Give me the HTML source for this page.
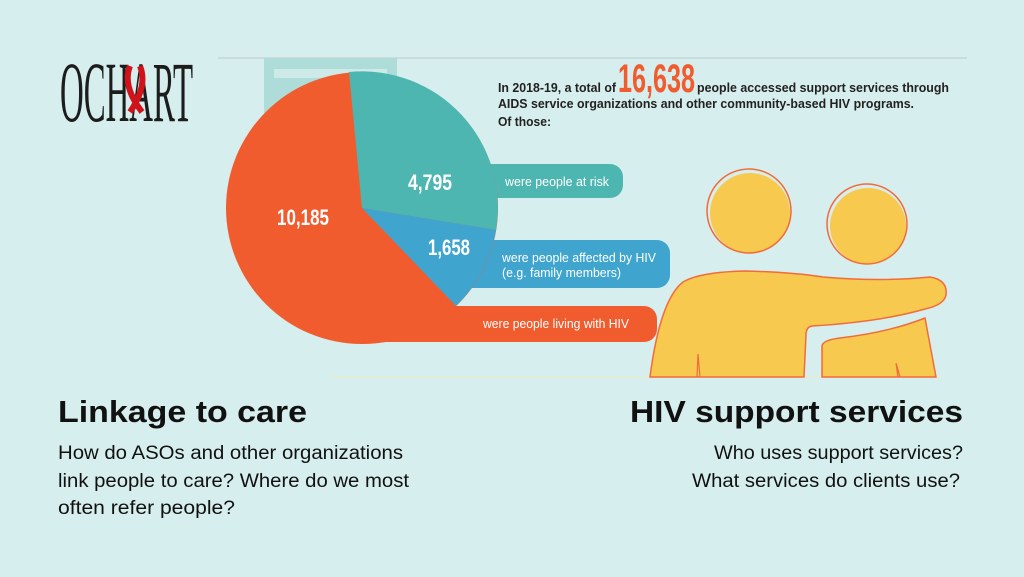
<!DOCTYPE html>
<html><head><meta charset="utf-8"><style>
html,body{margin:0;padding:0;background:#d6eeed;}
svg{display:block}
</style></head><body>
<svg width="1024" height="577" viewBox="0 0 1024 577" xmlns="http://www.w3.org/2000/svg">
<rect width="1024" height="577" fill="#d6eeed"/>
<rect x="218" y="57" width="749" height="2" fill="#c9dcdb"/>
<rect x="333" y="376" width="607" height="2" fill="#e4ecd8"/>
<rect x="264" y="58" width="133" height="200" fill="#aedcd9"/>
<rect x="274" y="69" width="113" height="9" fill="#cdeae8"/>
<rect x="440" y="164" width="183" height="34" rx="13" fill="#4db6b1"/>
<rect x="420" y="240" width="250" height="48" rx="13" fill="#3fa5cf"/>
<rect x="370" y="306" width="287" height="36" rx="13" fill="#f15c2f"/>
<circle cx="362" cy="208" r="136" fill="#f15c2f"/>
<path d="M362,208 L349,72 A136,136 0 0 1 496,230 Z" fill="#4db6b1"/>
<path d="M362,208 L496,230 A136,136 0 0 1 456,306 Z" fill="#3fa5cf"/>
<g font-family="Liberation Sans Narrow, Liberation Sans, sans-serif" fill="#fff">
<text x="277" y="225" font-size="22" font-weight="bold" textLength="52" lengthAdjust="spacingAndGlyphs">10,185</text>
<text x="408" y="190" font-size="22" font-weight="bold" textLength="44" lengthAdjust="spacingAndGlyphs">4,795</text>
<text x="428" y="255" font-size="22" font-weight="bold" textLength="42" lengthAdjust="spacingAndGlyphs">1,658</text>
<text x="505" y="186" font-size="13" textLength="104" lengthAdjust="spacingAndGlyphs">were people at risk</text>
<text x="502" y="262" font-size="13" textLength="154" lengthAdjust="spacingAndGlyphs">were people affected by HIV</text>
<text x="502" y="277" font-size="13" textLength="119" lengthAdjust="spacingAndGlyphs">(e.g. family members)</text>
<text x="483" y="328" font-size="13" textLength="146" lengthAdjust="spacingAndGlyphs">were people living with HIV</text>
</g>
<g font-family="Liberation Sans Narrow, Liberation Sans, sans-serif" font-weight="bold" fill="#222">
<text x="498" y="92" font-size="12.5" textLength="118" lengthAdjust="spacingAndGlyphs">In 2018-19, a total of</text>
<text x="618" y="92" font-size="40" fill="#f15c2f" textLength="77" lengthAdjust="spacingAndGlyphs">16,638</text>
<text x="697" y="92" font-size="12.5" textLength="252" lengthAdjust="spacingAndGlyphs">people accessed support services through</text>
<text x="498" y="108" font-size="12.5" textLength="416" lengthAdjust="spacingAndGlyphs">AIDS service organizations and other community-based HIV programs.</text>
<text x="498" y="126" font-size="12.5" textLength="53" lengthAdjust="spacingAndGlyphs">Of those:</text>
</g>
<g>
<path d="M822,377 L822,346 Q823,340 840,338 Q890,332 925,318 L936,377 Z" fill="#f8c94f" stroke="#f26b3a" stroke-width="1.5"/>
<path d="M650,377 Q660,300 683,282 Q700,272 745,271 Q790,272 823,277 Q880,282 930,277 Q948,280 946,295 Q944,305 925,309 Q880,322 812,326 Q806,327 806,335 L804,377 Z" fill="#f8c94f" stroke="#f26b3a" stroke-width="1.5"/>
<path d="M697,377 L698,354 L700,377 M898,377 L896,363 L900,377" stroke="#f26b3a" stroke-width="1.2" fill="none"/>
<circle cx="750" cy="213" r="40" fill="#f8c94f"/>
<circle cx="749" cy="211" r="42" fill="none" stroke="#f26b3a" stroke-width="1.5"/>
<circle cx="868" cy="226" r="38" fill="#f8c94f"/>
<circle cx="867" cy="224" r="40" fill="none" stroke="#f26b3a" stroke-width="1.5"/>
</g>
<text x="60" y="121" font-family="Liberation Serif, serif" font-size="86" fill="#1c1c1c" textLength="133" lengthAdjust="spacingAndGlyphs">OCHART</text>
<path d="M130,66 Q122,86 142,112 M140,66 Q148,86 130,112" stroke="#d0121b" stroke-width="6" fill="none"/>
<g font-family="Liberation Sans Narrow, Liberation Sans, sans-serif" fill="#111">
<text x="58" y="422" font-size="31" font-weight="bold" textLength="249" lengthAdjust="spacingAndGlyphs">Linkage to care</text>
<text x="58" y="459" font-size="19" textLength="345" lengthAdjust="spacingAndGlyphs">How do ASOs and other organizations</text>
<text x="58" y="487" font-size="19" textLength="351" lengthAdjust="spacingAndGlyphs">link people to care? Where do we most</text>
<text x="58" y="514" font-size="19" textLength="177" lengthAdjust="spacingAndGlyphs">often refer people?</text>
<text x="630" y="422" font-size="31" font-weight="bold" textLength="333" lengthAdjust="spacingAndGlyphs">HIV support services</text>
<text x="714" y="459" font-size="19" textLength="249" lengthAdjust="spacingAndGlyphs">Who uses support services?</text>
<text x="692" y="487" font-size="19" textLength="268" lengthAdjust="spacingAndGlyphs">What services do clients use?</text>
</g>
</svg>
</body></html>
